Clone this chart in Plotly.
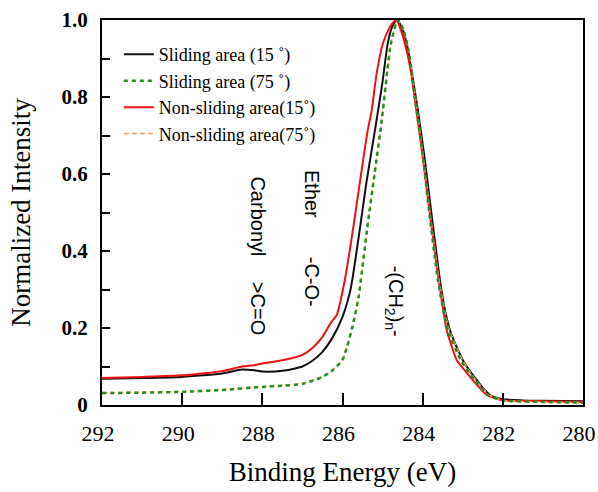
import plotly.graph_objects as go

# ---- data ----
e_black = [292.0, 291.0, 290.0, 289.5, 289.0, 288.5, 288.2, 288.0, 287.5, 287.0, 286.75, 286.5,
           286.25, 286.0, 285.8, 285.57, 285.4, 285.19, 285.0, 284.87, 284.75, 284.64, 284.5,
           284.39, 284.25, 284.12, 283.95, 283.82, 283.7, 283.57, 283.45, 283.32, 283.15, 283.0,
           282.8, 282.65, 282.5, 282.32, 282.0, 281.5, 281.0, 280.0]
i_black = [0.068, 0.070, 0.073, 0.077, 0.082, 0.092, 0.090, 0.087, 0.089, 0.100, 0.115, 0.138,
           0.175, 0.229, 0.30, 0.455, 0.58, 0.714, 0.84, 0.94, 0.985, 1.0, 0.975,
           0.935, 0.85, 0.766, 0.64, 0.53, 0.43, 0.325, 0.25, 0.195, 0.15, 0.117,
           0.085, 0.065, 0.045, 0.026, 0.015, 0.012, 0.011, 0.010]

e_red = [292.0, 291.0, 290.0, 289.5, 289.0, 288.5, 288.2, 288.0, 287.5, 287.0, 286.75, 286.5,
         286.3, 286.14, 285.95, 285.74, 285.55, 285.37, 285.27, 285.15, 284.99, 284.8, 284.66,
         284.5, 284.3, 284.15, 283.98, 283.85, 283.72, 283.62, 283.4, 283.15, 282.95, 282.75,
         282.4, 282.0, 281.0, 280.0]
i_red = [0.070, 0.073, 0.077, 0.082, 0.088, 0.100, 0.103, 0.108, 0.116, 0.130, 0.148, 0.177,
         0.212, 0.235, 0.32, 0.455, 0.59, 0.714, 0.766, 0.86, 0.94, 0.985, 1.0,
         0.96, 0.87, 0.76, 0.63, 0.52, 0.42, 0.34, 0.195, 0.117, 0.09, 0.065,
         0.026, 0.012, 0.010, 0.008]

e_green = [292.0, 291.0, 290.0, 289.0, 288.0, 287.5, 287.0, 286.5, 286.25, 286.0, 285.89, 285.75,
           285.6, 285.39, 285.2, 285.02, 284.79, 284.62, 284.5, 284.35, 284.17, 284.0, 283.87,
           283.62, 283.37, 283.05, 282.85, 282.7, 282.37, 282.0, 281.0, 280.0]
i_green = [0.031, 0.032, 0.034, 0.039, 0.047, 0.050, 0.055, 0.073, 0.090, 0.117, 0.15, 0.205,
           0.28, 0.455, 0.60, 0.74, 0.94, 1.0, 0.98, 0.92, 0.78, 0.65, 0.53,
           0.325, 0.195, 0.117, 0.085, 0.065, 0.026, 0.012, 0.008, 0.006]

e_orange = [292.0, 291.0, 290.0, 289.0, 288.0, 287.5, 287.0, 286.5, 286.25, 286.0, 285.89, 285.75,
            285.6, 285.39, 285.2, 285.02, 284.79, 284.62, 284.5, 284.35, 284.17, 284.0, 283.87,
            283.6, 283.35, 283.02, 282.83, 282.68, 282.35, 282.0, 281.0, 280.0]
i_orange = [0.032, 0.033, 0.035, 0.040, 0.048, 0.051, 0.056, 0.074, 0.091, 0.118, 0.15, 0.20,
            0.275, 0.45, 0.60, 0.74, 0.94, 1.0, 0.98, 0.925, 0.79, 0.66, 0.545,
            0.33, 0.20, 0.12, 0.087, 0.066, 0.027, 0.012, 0.008, 0.006]

names = ["Sliding area (15 \u02da)", "Sliding area (75 \u02da)",
         "Non-sliding area(15\u02da)", "Non-sliding area(75\u02da)"]

y_tickvals = [0, 0.2, 0.4, 0.6, 0.8, 1.0]
y_ticktext = ["<b>0</b>", "<b>0.2</b>", "<b>0.4</b>", "<b>0.6</b>", "<b>0.8</b>", "<b>1.0</b>"]
x_tickvals = [292, 290, 288, 286, 284, 282, 280]

serif = "Liberation Serif, Times New Roman, serif"
sans = "Liberation Sans, Arial, sans-serif"

fig = go.Figure()
# drawing order: solid lines first, dashed on top; legend order via legendrank
fig.add_trace(go.Scatter(x=e_black, y=i_black, mode="lines", name=names[0], legendrank=1,
                         line=dict(color="#111111", width=2, shape="spline", smoothing=0.6)))
fig.add_trace(go.Scatter(x=e_red, y=i_red, mode="lines", name=names[2], legendrank=3,
                         line=dict(color="#ee1111", width=2, shape="spline", smoothing=0.6)))
fig.add_trace(go.Scatter(x=e_orange, y=i_orange, mode="lines", name=names[3], legendrank=4,
                         line=dict(color="#f0a060", width=1.6, dash="5px,3px", shape="spline", smoothing=0.6)))
fig.add_trace(go.Scatter(x=e_green, y=i_green, mode="lines", name=names[1], legendrank=2,
                         line=dict(color="#2a8a22", width=2.5, dash="4px,4px", shape="spline", smoothing=0.6)))

fig.update_layout(
    width=598, height=492,
    margin=dict(l=102, r=15, t=20, b=87, autoexpand=False),
    paper_bgcolor="white", plot_bgcolor="white",
    showlegend=True,
    legend=dict(x=0.035, y=0.958, xanchor="left", yanchor="top",
                bgcolor="rgba(0,0,0,0)", font=dict(family=serif, size=18, color="black"),
                traceorder="normal", tracegroupgap=0),
    font=dict(family=serif, color="black"),
)
fig.update_xaxes(range=[292, 280], tickvals=x_tickvals, ticks="inside", ticklen=12,
                 tickwidth=2, tickcolor="black", showline=True, linecolor="black", linewidth=2,
                 mirror=True, showgrid=False, zeroline=False, ticklabelshift=4,
                 ticklabelstandoff=8, automargin=False, ticklabeloverflow="allow",
                 tickfont=dict(family=serif, size=22, color="black"),
                 title=dict(text="Binding Energy (eV)", font=dict(family=serif, size=27), standoff=17))
fig.update_yaxes(range=[0, 1.0], tickvals=y_tickvals, ticktext=y_ticktext, ticks="inside", ticklen=8,
                 tickwidth=2, tickcolor="black", showline=True, linecolor="black", linewidth=2,
                 mirror=True, showgrid=False, zeroline=False, ticklabelstandoff=8,
                 automargin=False, ticklabeloverflow="allow",
                 minor=dict(tickvals=[0.1, 0.3, 0.5, 0.7, 0.9], ticks="inside", ticklen=8,
                            tickwidth=2, tickcolor="black"),
                 tickfont=dict(family=serif, size=21, color="black"),
                 title=dict(text="Normalized Intensity", font=dict(family=serif, size=27), standoff=23))

ann_font = dict(family=sans, size=20, color="black")
annotations = [
    ("Carbonyl", 288.11, 0.49),
    (">C=O", 288.11, 0.25),
    ("Ether", 286.76, 0.548),
    ("-C-O-", 286.76, 0.32),
    ("-(CH<sub>2</sub>)<sub>n</sub>-", 284.68, 0.27),
]
for txt, xv, yv in annotations:
    fig.add_annotation(x=xv, y=yv, text=txt, textangle=90, showarrow=False,
                       font=ann_font, xref="x", yref="y")

fig.write_html("out.html", config={"displayModeBar": False},
               post_script="document.body.style.margin='0';document.body.style.padding='0';")
